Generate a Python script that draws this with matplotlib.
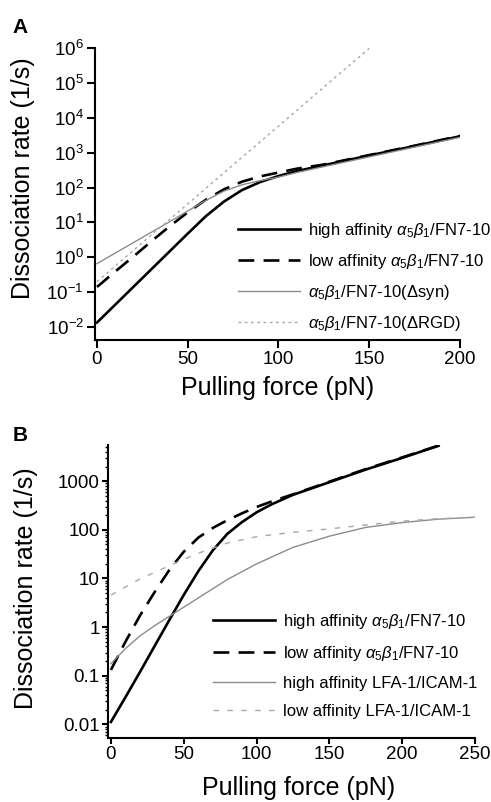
import numpy as np
import matplotlib
matplotlib.use("Agg")
import matplotlib.pyplot as plt
from matplotlib.ticker import FixedLocator, FixedFormatter, LogLocator, NullFormatter, NullLocator

plt.rcParams['font.family'] = ['Liberation Sans', 'DejaVu Sans']
plt.rcParams['mathtext.fontset'] = 'custom'
plt.rcParams['mathtext.rm'] = 'Liberation Sans'
plt.rcParams['mathtext.it'] = 'Liberation Sans:italic'

# ---------------- Panel A data (force in pN, log10 of rate in 1/s) ----------------
a_force = [0, 10, 20, 30, 40, 50, 60, 70, 80, 90, 100, 110, 125, 150, 175, 200]
a_high_log = [-1.87, -1.36, -0.85, -0.34, 0.17, 0.68, 1.18, 1.6, 1.93, 2.16, 2.33, 2.47, 2.64, 2.92, 3.19, 3.47]
a_low_log = [-0.85, -0.41, 0.02, 0.46, 0.89, 1.29, 1.65, 1.95, 2.17, 2.32, 2.43, 2.54, 2.66, 2.93, 3.2, 3.48]
a_dsyn_log = [-0.18, 0.12, 0.42, 0.72, 1.02, 1.33, 1.63, 1.9, 2.08, 2.2, 2.3, 2.43, 2.6, 2.88, 3.16, 3.44]
a_drgd_force = [0, 25, 50, 75, 100, 125, 150]
a_drgd_log = [-0.7, 0.42, 1.53, 2.65, 3.76, 4.88, 5.99]
a_labels = [r"high affinity $\alpha_5\beta_1$/FN7-10",
            r"low affinity $\alpha_5\beta_1$/FN7-10",
            r"$\alpha_5\beta_1$/FN7-10($\Delta$syn)",
            r"$\alpha_5\beta_1$/FN7-10($\Delta$RGD)"]
a_xticks = [0, 50, 100, 150, 200]
a_yticks = [1e-2, 1e-1, 1e0, 1e1, 1e2, 1e3, 1e4, 1e5, 1e6]

# ---------------- Panel B data ----------------
b_high_force = [0, 10, 20, 30, 40, 50, 60, 70, 80, 90, 100, 110, 125, 150, 175, 200, 225]
b_high_log = [-1.95, -1.44, -0.92, -0.39, 0.14, 0.66, 1.15, 1.58, 1.92, 2.16, 2.36, 2.52, 2.72, 2.98, 3.24, 3.48, 3.73]
b_low_force = [0, 10, 20, 30, 40, 50, 60, 70, 80, 90, 100, 110, 125, 150, 175, 200, 232]
b_low_log = [-0.88, -0.3, 0.24, 0.72, 1.17, 1.55, 1.84, 2.04, 2.2, 2.34, 2.47, 2.58, 2.73, 2.99, 3.25, 3.49, 3.8]
b_lfa_high_force = [0, 10, 20, 30, 40, 60, 80, 100, 125, 150, 175, 200, 225, 250]
b_lfa_high_log = [-0.75, -0.44, -0.18, 0.03, 0.22, 0.6, 0.98, 1.3, 1.64, 1.87, 2.05, 2.15, 2.22, 2.26]
b_lfa_low_force = [0, 20, 40, 60, 80, 100, 125, 150, 175, 200, 225, 250]
b_lfa_low_log = [0.66, 0.99, 1.26, 1.52, 1.73, 1.86, 1.95, 2.02, 2.1, 2.18, 2.23, 2.26]
b_labels = [r"high affinity $\alpha_5\beta_1$/FN7-10",
            r"low affinity $\alpha_5\beta_1$/FN7-10",
            "high affinity LFA-1/ICAM-1",
            "low affinity LFA-1/ICAM-1"]
b_xticks = [0, 50, 100, 150, 200, 250]
b_yticks = [0.01, 0.1, 1, 10, 100, 1000]
b_yticklabels = ["0.01", "0.1", "1", "10", "100", "1000"]

W, H = 491, 802
fig = plt.figure(figsize=(W / 100, H / 100), dpi=100)

def px_axes(l, r, t, b):
    return fig.add_axes([l / W, 1 - b / H, (r - l) / W, (b - t) / H])

BLACK_LW = 1.9
GRAY1 = '#8c8c8c'
GRAY2 = '#a8a8a8'

def style(ax, ticklen):
    for s in ['top', 'right']:
        ax.spines[s].set_visible(False)
    for s in ['left', 'bottom']:
        ax.spines[s].set_linewidth(1.5)
    ax.tick_params(which='major', direction='out', length=ticklen, width=1.5, labelsize=13.5, pad=2)

# ---------------- Panel A ----------------
axA = px_axes(95, 460, 48, 340)
axA.set_yscale('log')
lA = []
lA.append(axA.plot(a_force, 10 ** np.array(a_high_log), color='black', lw=BLACK_LW)[0])
lA.append(axA.plot(a_force, 10 ** np.array(a_low_log), color='black', lw=BLACK_LW, dashes=(6, 3.5))[0])
lA.append(axA.plot(a_force, 10 ** np.array(a_dsyn_log), color=GRAY1, lw=1.0)[0])
lA.append(axA.plot(a_drgd_force, 10 ** np.array(a_drgd_log), color=GRAY2, lw=1.0, dashes=(2, 2.5))[0])
axA.set_xlim(-1.1, 200)
axA.set_ylim(10 ** -2.37, 1e6)
axA.xaxis.set_major_locator(FixedLocator(a_xticks))
axA.yaxis.set_major_locator(FixedLocator(a_yticks))
axA.yaxis.set_minor_locator(NullLocator())
style(axA, 6)
axA.set_xlabel("Pulling force (pN)", fontsize=18)
axA.set_ylabel("Dissociation rate (1/s)", fontsize=18)
axA.xaxis.set_label_coords(0.5, -0.125)
axA.yaxis.set_label_coords(-0.165, 0.555)
legA = axA.legend(lA, a_labels, loc='upper left', bbox_to_anchor=(238 / W, 1 - 221 / H),
                  bbox_transform=fig.transFigure, frameon=False, fontsize=12,
                  handlelength=3.7, handletextpad=0.5, labelspacing=0.72, borderpad=0, borderaxespad=0)
fig.text(12 / W, 1 - 33 / H, "A", fontsize=15, fontweight='bold')

# ---------------- Panel B ----------------
axB = px_axes(108, 475, 445, 738)
axB.set_yscale('log')
lB = []
lB.append(axB.plot(b_high_force, 10 ** np.array(b_high_log), color='black', lw=BLACK_LW)[0])
lB.append(axB.plot(b_low_force, 10 ** np.array(b_low_log), color='black', lw=BLACK_LW, dashes=(6, 3.5))[0])
lB.append(axB.plot(b_lfa_high_force, 10 ** np.array(b_lfa_high_log), color=GRAY1, lw=1.0)[0])
lB.append(axB.plot(b_lfa_low_force, 10 ** np.array(b_lfa_low_log), color=GRAY2, lw=1.0, dashes=(4, 6))[0])
axB.set_xlim(-2, 250)
axB.set_ylim(10 ** -2.28, 10 ** 3.745)
axB.xaxis.set_major_locator(FixedLocator(b_xticks))
axB.yaxis.set_major_locator(FixedLocator(b_yticks))
axB.yaxis.set_major_formatter(FixedFormatter(b_yticklabels))
axB.yaxis.set_minor_locator(LogLocator(base=10, subs=np.arange(2, 10)))
axB.yaxis.set_minor_formatter(NullFormatter())
style(axB, 4)
axB.tick_params(which='minor', direction='out', length=2.5, width=1.0)
axB.set_xlabel("Pulling force (pN)", fontsize=18)
axB.set_ylabel("Dissociation rate (1/s)", fontsize=18)
axB.xaxis.set_label_coords(0.52, -0.13)
axB.yaxis.set_label_coords(-0.19, 0.51)
legB = axB.legend(lB, b_labels, loc='upper left', bbox_to_anchor=(213 / W, 1 - 612 / H),
                  bbox_transform=fig.transFigure, frameon=False, fontsize=12,
                  handlelength=3.7, handletextpad=0.5, labelspacing=0.78, borderpad=0, borderaxespad=0)
fig.text(13 / W, 1 - 441 / H, "B", fontsize=15, fontweight='bold')

fig.savefig("out.png", dpi=100)
